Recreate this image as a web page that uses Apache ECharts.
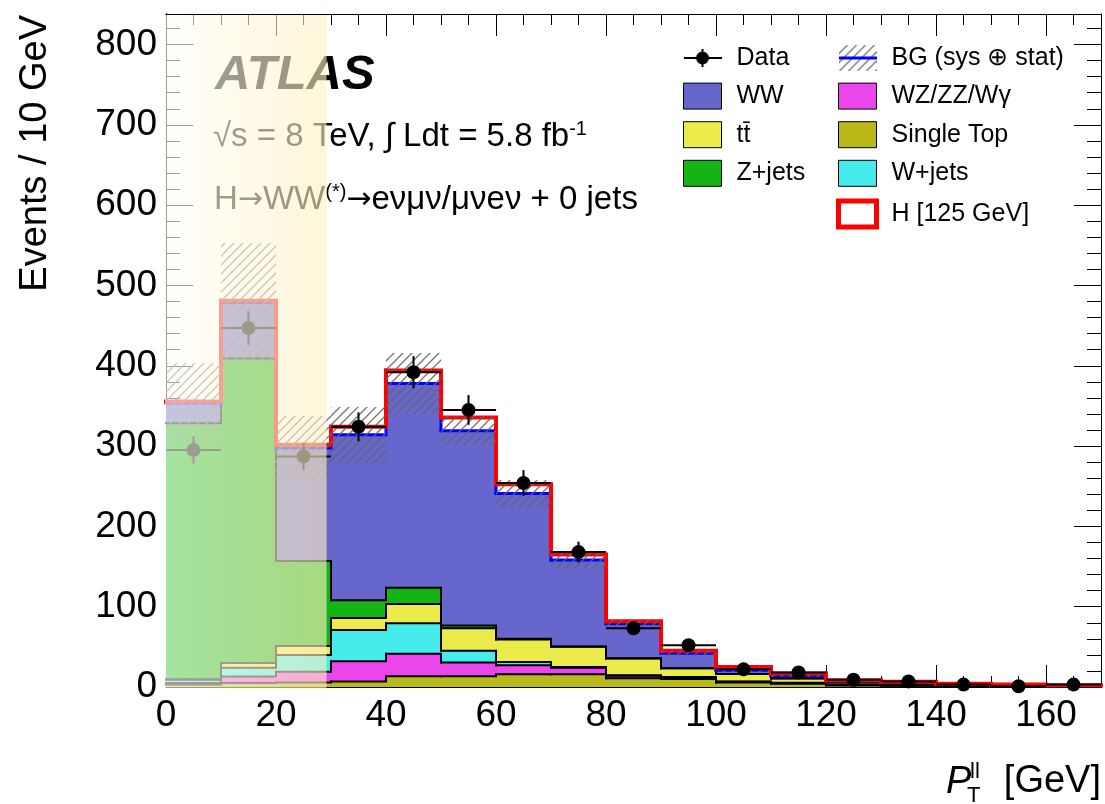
<!DOCTYPE html>
<html>
<head>
<meta charset="utf-8">
<script src="https://cdn.jsdelivr.net/npm/echarts@6/dist/echarts.min.js"></script>
<style>
  html, body { margin: 0; padding: 0; background: #ffffff; }
  #main { width: 1105px; height: 804px; }
</style>
</head>
<body>
<div id="main"></div>
<script>
// pT(ll) distribution, 10 GeV bins from 0 to 170 GeV
const binLow = [0, 10, 20, 30, 40, 50, 60, 70, 80, 90, 100, 110, 120, 130, 140, 150, 160];
const binWidth = 10;
const xMax = 170;
const yMax = 838;
const excludedRegion = [0, 29.2];

// Background components (events / bin), stacked bottom to top
const singleTop = [3, 5, 5.5, 7, 13.5, 13.5, 16, 16, 11, 10, 5.5, 4, 2, 1.5, 1, 0.5, 0.3];
const dibosons  = [2, 8, 13.5, 25, 28, 17, 11, 8, 3, 2, 1, 1, 0.8, 0.5, 0.4, 0.3, 0.2];
const wJets     = [4, 11, 21, 39, 38, 14.5, 4, 1, 0.5, 0.3, 0.2, 0.2, 0.2, 0.1, 0.1, 0.1, 0.1];
const ttbar     = [0.5, 6, 11, 15, 24, 28, 28, 25, 21, 11, 9.5, 5.5, 3, 2, 1.2, 0.8, 0.5];
const zJets     = [319, 379, 106, 22, 20, 3.5, 1, 0.5, 0.3, 0.2, 0.1, 0.1, 0.1, 0.1, 0.1, 0.1, 0.1];
const wwBkg     = [25, 70, 140.5, 206, 254.5, 242.5, 181, 107.5, 43, 18.5, 4.7, 2.9, 1.5, 1.5, 0.5, 0.5, 0.4];
// Signal
const higgs     = [2, 2, 4, 10, 16, 16.5, 11.5, 7, 3, 3, 4, 3, 0.8, 0.8, 0.8, 0.8, 0.6];
// Total background uncertainty (sys + stat)
const bgErr     = [50, 74, 40, 35, 38, 18, 17, 10, 5, 3.5, 2, 1.5, 1, 0.8, 0.5, 0.4, 0.3];
// Observed data
const dataCounts = [295, 447, 287, 324, 392, 345, 254, 168, 73, 52, 22, 18, 9, 7, 3, 1, 3];
const dataErr    = [17, 21, 17, 18, 20, 18.5, 16, 13, 8.5, 7.2, 4.7, 4.2, 3, 2.6, 1.7, 1, 1.7];

const FONT = 'Liberation Sans';

const layers = [
  { name: 'Single Top', values: singleTop, color: '#b9b919' },
  { name: 'WZ/ZZ/W\u03b3', values: dibosons, color: '#eb46eb' },
  { name: 'W+jets', values: wJets, color: '#46ebeb' },
  { name: 'tt\u0304', values: ttbar, color: '#ebeb4b' },
  { name: 'Z+jets', values: zJets, color: '#14b414' },
  { name: 'WW', values: wwBkg, color: '#6666cc' }
];

// hatch pattern for the background uncertainty band
function makeHatch(size, color, lw) {
  const c = document.createElement('canvas');
  c.width = size; c.height = size;
  const g = c.getContext('2d');
  g.strokeStyle = color; g.lineWidth = lw;
  g.beginPath();
  g.moveTo(0, size); g.lineTo(size, 0);
  g.moveTo(-size / 2, size / 2); g.lineTo(size / 2, -size / 2);
  g.moveTo(size / 2, size * 1.5); g.lineTo(size * 1.5, size / 2);
  g.stroke();
  return c;
}
const hatchCanvas = makeHatch(9, 'rgba(100,100,100,0.9)', 1.3);

function bgLegendIcon() {
  const c = document.createElement('canvas');
  c.width = 38; c.height = 26;
  const g = c.getContext('2d');
  g.strokeStyle = 'rgba(100,100,100,0.9)'; g.lineWidth = 1.3;
  g.beginPath();
  for (let k = -26; k < 40; k += 9) { g.moveTo(k, 26); g.lineTo(k + 26, 0); }
  g.stroke();
  g.strokeStyle = '#0000ff'; g.lineWidth = 3;
  g.beginPath(); g.moveTo(0, 13); g.lineTo(38, 13); g.stroke();
  return 'image://' + c.toDataURL();
}
function dataLegendIcon() {
  const c = document.createElement('canvas');
  c.width = 38; c.height = 26;
  const g = c.getContext('2d');
  g.strokeStyle = '#000'; g.lineWidth = 2;
  g.beginPath(); g.moveTo(0, 13); g.lineTo(38, 13); g.moveTo(19, 4); g.lineTo(19, 22); g.stroke();
  g.fillStyle = '#000';
  g.beginPath(); g.arc(19, 13, 6.5, 0, Math.PI * 2); g.fill();
  return 'image://' + c.toDataURL();
}

function binRect(api, lo, hi, y0, y1) {
  const a = api.coord([lo, y1]);
  const b = api.coord([hi, y0]);
  const x0 = Math.round(a[0]), x1 = Math.round(b[0]);
  const ya = Math.round(a[1]), yb = Math.round(b[1]);
  return { x: x0, y: ya, width: x1 - x0, height: yb - ya };
}

function fillSeries(name, lower, upper, fill, z) {
  return {
    type: 'custom', name, z, xAxisIndex: 0, yAxisIndex: 0,
    itemStyle: { color: typeof fill === 'string' ? fill : '#888' },
    data: binLow.map((x, i) => [x, x + binWidth, lower[i], upper[i]]),
    encode: { x: [0, 1], y: [2, 3] },
    renderItem(params, api) {
      return {
        type: 'rect',
        shape: binRect(api, api.value(0), api.value(1), api.value(2), api.value(3)),
        style: { fill: fill }
      };
    }
  };
}

function outlineSeries(name, tops, color, width, z) {
  return {
    type: 'custom', name, z, silent: true, xAxisIndex: 0, yAxisIndex: 0,
    data: tops.map((t, i) => [binLow[i], binLow[i] + binWidth, t, i + 1 < tops.length ? tops[i + 1] : t]),
    encode: { x: [0, 1], y: [2, 3] },
    renderItem(params, api) {
      const p0 = api.coord([api.value(0), api.value(2)]);
      const p1 = api.coord([api.value(1), api.value(2)]);
      const p2 = api.coord([api.value(1), api.value(3)]);
      return {
        type: 'polyline',
        shape: { points: [p0, p1, p2] },
        style: { stroke: color, lineWidth: width, fill: 'none', lineCap: 'square', lineJoin: 'miter' }
      };
    }
  };
}

const series = [];
let base = binLow.map(() => 0);
const outlineTops = [];
layers.forEach((layer) => {
  const lower = base.slice();
  const upper = base.map((b, i) => b + layer.values[i]);
  series.push(fillSeries(layer.name, lower, upper, layer.color, 2));
  outlineTops.push(upper);
  base = upper;
});
const bgTotal = base.slice();
const sigTop = bgTotal.map((b, i) => b + higgs[i]);

// signal: white fill outlined in red
series.push(fillSeries('H [125 GeV]', bgTotal, sigTop, '#ffffff', 2));
// black outlines of the lower components
outlineTops.slice(0, outlineTops.length - 1).forEach((tops, k) => {
  series.push(outlineSeries('edge' + k, tops, '#000000', 2, 3));
});
series.push(outlineSeries('bg total line', bgTotal, '#0000ff', 3, 4));
series.push(outlineSeries('signal line', sigTop, '#ff0000', 4, 5));

// uncertainty band
series.push({
  type: 'custom', name: 'BG (sys \u2295 stat)', z: 6, xAxisIndex: 0, yAxisIndex: 0,
  itemStyle: { color: '#777' },
  data: binLow.map((x, i) => [x, x + binWidth, bgTotal[i] - bgErr[i], bgTotal[i] + bgErr[i]]),
  encode: { x: [0, 1], y: [2, 3] },
  renderItem(params, api) {
    return {
      type: 'rect',
      shape: binRect(api, api.value(0), api.value(1), api.value(2), api.value(3)),
      style: { fill: { image: hatchCanvas, repeat: 'repeat' } }
    };
  }
});

// data points with error bars
series.push({
  type: 'custom', name: 'Data', z: 8, xAxisIndex: 0, yAxisIndex: 0,
  itemStyle: { color: '#000' },
  data: binLow.map((x, i) => [x, x + binWidth, dataCounts[i], dataErr[i]]),
  encode: { x: [0, 1], y: [2] },
  renderItem(params, api) {
    const lo = api.value(0), hi = api.value(1), v = api.value(2), e = api.value(3);
    const xc = (lo + hi) / 2;
    const pl = api.coord([lo, v]), pr = api.coord([hi, v]);
    const pt = api.coord([xc, v + e]), pb = api.coord([xc, Math.max(v - e, 0)]);
    const pc = api.coord([xc, v]);
    return {
      type: 'group',
      children: [
        { type: 'line', shape: { x1: pl[0], y1: pl[1], x2: pr[0], y2: pr[1] }, style: { stroke: '#000', lineWidth: 2 } },
        { type: 'line', shape: { x1: pt[0], y1: pt[1], x2: pb[0], y2: pb[1] }, style: { stroke: '#000', lineWidth: 2 } },
        { type: 'circle', shape: { cx: pc[0], cy: pc[1], r: 7 }, style: { fill: '#000' } }
      ]
    };
  }
});

// washed-out low-pT region
series.push({
  type: 'custom', name: 'excluded', z: 20, silent: true, xAxisIndex: 0, yAxisIndex: 0,
  data: [excludedRegion],
  encode: { x: [0, 1] },
  renderItem(params, api) {
    const a = api.coord([api.value(0), yMax]);
    const b = api.coord([api.value(1), 0]);
    return {
      type: 'rect',
      shape: { x: a[0] - 1, y: a[1] + 1, width: b[0] - a[0] + 1, height: b[1] - a[1] + 1 },
      style: {
        fill: new echarts.graphic.LinearGradient(0, 0, 1, 0, [
          { offset: 0, color: 'rgba(255,255,248,0.62)' },
          { offset: 1, color: 'rgba(255,240,195,0.62)' }
        ])
      }
    };
  }
});

const axisLabelStyle = { fontFamily: FONT, fontSize: 37, color: '#000' };
function makeAxis(position, max, interval, tickLen, labels, margin) {
  return {
    type: 'value', position, min: 0, max, interval,
    axisLine: { show: true, onZero: false, lineStyle: { color: '#000', width: 1 } },
    axisTick: { show: true, inside: true, length: tickLen, lineStyle: { color: '#000', width: 1 } },
    axisLabel: labels
      ? Object.assign({ show: true, margin, showMaxLabel: false, showMinLabel: true }, axisLabelStyle)
      : { show: false },
    splitLine: { show: false },
    minorTick: { show: false },
    axisPointer: { show: false }
  };
}

const legendText = { fontFamily: FONT, fontSize: 25, color: '#000', padding: [0, 0, 0, 10] };
const boxStyle = c => ({ color: c, borderColor: '#000', borderWidth: 1 });

const textRich = {
  sup: { fontFamily: FONT, fontSize: 20, fill: '#000', verticalAlign: 'top', lineHeight: 36 },
  arr: { fontFamily: 'DejaVu Sans', fontSize: 30, fill: '#000', lineHeight: 36 }
};

const option = {
  animation: false,
  backgroundColor: '#ffffff',
  grid: { left: 166, right: 4, top: 14, bottom: 117, containLabel: false, outerBoundsMode: 'none' },
  xAxis: [
    makeAxis('bottom', xMax, 20, 22, true, 10),
    makeAxis('bottom', xMax, 5, 11, false),
    makeAxis('top', xMax, 20, 22, false),
    makeAxis('top', xMax, 5, 11, false)
  ],
  yAxis: [
    makeAxis('left', yMax, 100, 27, true, 9),
    makeAxis('left', yMax, 20, 14, false),
    makeAxis('right', yMax, 100, 27, false),
    makeAxis('right', yMax, 20, 14, false)
  ],
  legend: [
    {
      left: 683, top: 45, orient: 'vertical', padding: 0,
      itemWidth: 38, itemHeight: 26, itemGap: 11.6, selectedMode: false,
      textStyle: legendText,
      data: [
        { name: 'Data', icon: dataLegendIcon() },
        { name: 'WW', icon: 'rect', itemStyle: boxStyle('#6666cc') },
        { name: 'tt\u0304', icon: 'rect', itemStyle: boxStyle('#ebeb4b') },
        { name: 'Z+jets', icon: 'rect', itemStyle: boxStyle('#14b414') }
      ]
    },
    {
      left: 836, top: 45, orient: 'vertical', padding: 0,
      itemWidth: 38, itemHeight: 26, itemGap: 11.6, selectedMode: false,
      textStyle: legendText,
      data: [
        { name: 'BG (sys \u2295 stat)', icon: bgLegendIcon() },
        { name: 'WZ/ZZ/W\u03b3', icon: 'rect', itemStyle: boxStyle('#eb46eb') },
        { name: 'Single Top', icon: 'rect', itemStyle: boxStyle('#b9b919') },
        { name: 'W+jets', icon: 'rect', itemStyle: boxStyle('#46ebeb') },
        { name: 'H [125 GeV]', icon: 'rect', itemStyle: { color: '#ffffff', borderColor: '#ff0000', borderWidth: 5 } }
      ]
    }
  ],
  graphic: [
    {
      type: 'text', x: 215, y: 75, z: 10,
      style: { text: 'ATLAS', fontFamily: FONT, fontSize: 49, fontWeight: 'bold', fontStyle: 'italic', fill: '#000', verticalAlign: 'middle' }
    },
    {
      type: 'text', x: 213, y: 137, z: 10,
      style: {
        text: '\u221as = 8 TeV, \u222b Ldt = 5.8 fb{sup|-1}',
        fontFamily: FONT, fontSize: 33, fill: '#000', verticalAlign: 'middle', lineHeight: 36,
        rich: textRich
      }
    },
    {
      type: 'text', x: 214, y: 200, z: 10,
      style: {
        text: 'H{arr|\u2192}WW{sup|(*)}{arr|\u2192}e\u03bd\u03bc\u03bd/\u03bc\u03bde\u03bd + 0 jets',
        fontFamily: FONT, fontSize: 33, fill: '#000', verticalAlign: 'middle', lineHeight: 36,
        rich: textRich
      }
    },
    {
      type: 'text', x: 36, y: 15, rotation: Math.PI / 2, z: 10,
      style: { text: 'Events / 10 GeV', fontFamily: FONT, fontSize: 38, fill: '#000', align: 'right', verticalAlign: 'middle' }
    },
    {
      type: 'text', x: 946, y: 782, z: 10,
      style: { text: 'P', fontFamily: FONT, fontSize: 38, fontStyle: 'italic', fill: '#000', verticalAlign: 'middle' }
    },
    {
      type: 'text', x: 970, y: 772, z: 10,
      style: { text: 'll', fontFamily: FONT, fontSize: 22, fill: '#000', verticalAlign: 'middle' }
    },
    {
      type: 'text', x: 967, y: 796, z: 10,
      style: { text: 'T', fontFamily: FONT, fontSize: 22, fill: '#000', verticalAlign: 'middle' }
    },
    {
      type: 'text', x: 1101, y: 782, z: 10,
      style: { text: '[GeV]', fontFamily: FONT, fontSize: 38, fill: '#000', align: 'right', verticalAlign: 'middle' }
    }
  ],
  series
};

const chart = echarts.init(document.getElementById('main'), null, { renderer: 'canvas' });
chart.setOption(option);
</script>
</body>
</html>
